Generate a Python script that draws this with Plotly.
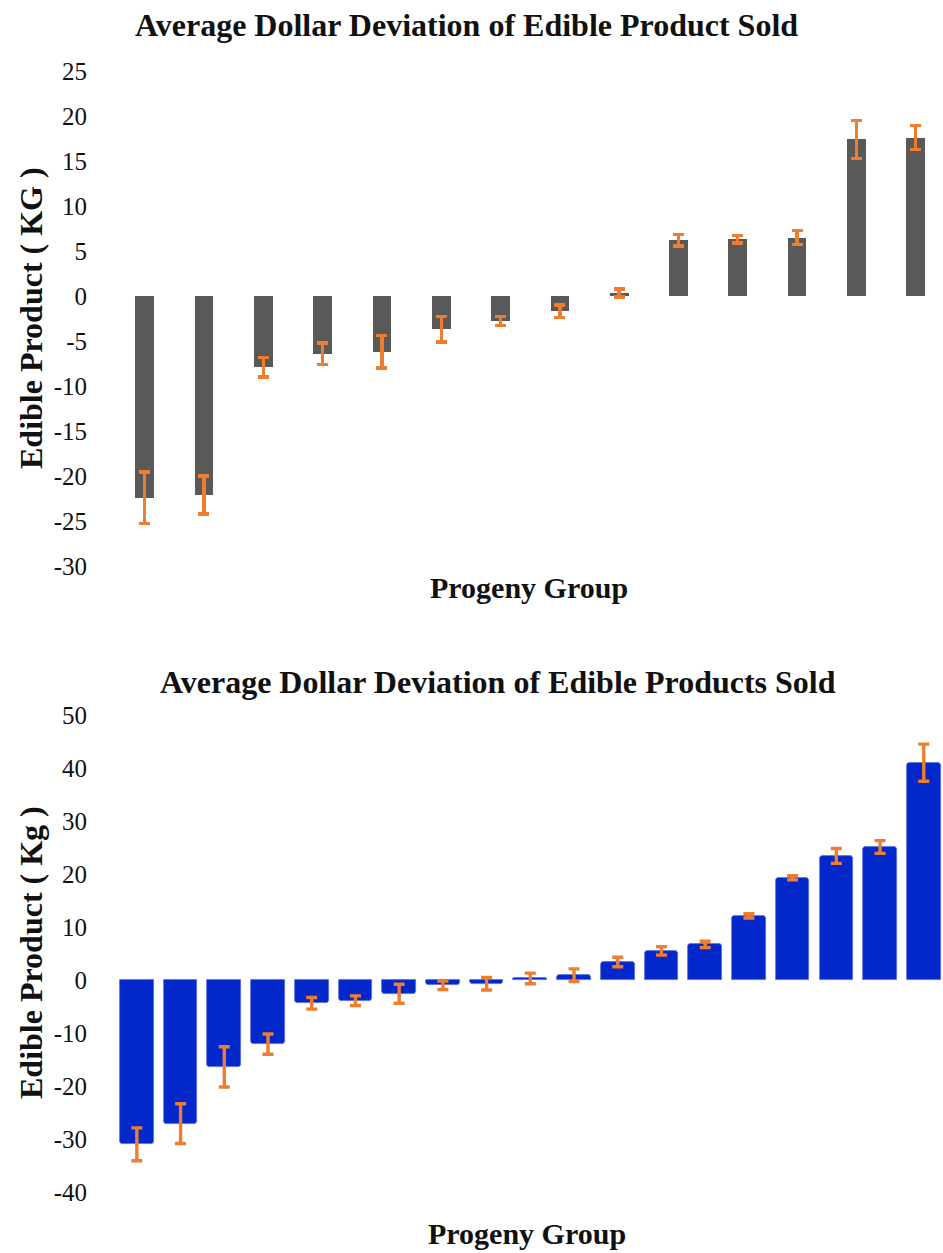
import plotly.graph_objects as go

# Progeny groups (unlabelled on the axis), sorted by deviation
top_groups = [f"G{i}" for i in range(1, 15)]
top_values = [-22.4, -22.1, -7.9, -6.4, -6.2, -3.7, -2.75, -1.7, 0.35, 6.2, 6.3, 6.5, 17.4, 17.6]
top_errors = [2.85, 2.1, 1.1, 1.2, 1.8, 1.4, 0.5, 0.7, 0.45, 0.65, 0.4, 0.75, 2.1, 1.35]

bottom_groups = [f"G{i}" for i in range(1, 20)]
bottom_values = [-31.0, -27.1, -16.4, -12.1, -4.4, -3.9, -2.6, -1.0, -0.7, 0.3, 0.9,
                 3.4, 5.5, 6.7, 12.1, 19.3, 23.4, 25.1, 41.0]
bottom_errors = [3.1, 3.75, 3.8, 1.9, 1.1, 0.9, 1.8, 0.8, 1.2, 1.0, 1.2,
                 0.9, 0.8, 0.6, 0.4, 0.4, 1.4, 1.2, 3.5]

top_ticks = list(range(-30, 30, 5))
top_tick_text = [str(v) for v in top_ticks]
bottom_ticks = list(range(-40, 60, 10))
bottom_tick_text = [str(v) for v in bottom_ticks]

W, H = 943, 1253
SERIF = "Liberation Serif, Times New Roman, serif"
ERR_COLOR = "#ED7D31"


def px_x(x):
    return x / W


def px_y(y):
    return 1 - y / H


fig = go.Figure()

fig.add_trace(go.Bar(
    x=top_groups, y=top_values, width=0.315,
    marker=dict(color="#595959", line=dict(width=0)),
    error_y=dict(type="data", array=top_errors, visible=True,
                 color=ERR_COLOR, thickness=3.4, width=5.5),
    xaxis="x", yaxis="y", showlegend=False,
))

fig.add_trace(go.Bar(
    x=bottom_groups, y=bottom_values, width=0.77,
    marker=dict(color="#0228CC", line=dict(width=0.8, color="#5870DC"), cornerradius=3),
    error_y=dict(type="data", array=bottom_errors, visible=True,
                 color=ERR_COLOR, thickness=3.4, width=5.5),
    xaxis="x2", yaxis="y2", showlegend=False,
))

x_dom = [px_x(115), 1.0]
tickfont = dict(family=SERIF, size=25, color="#111111")

fig.update_layout(
    width=W, height=H,
    margin=dict(l=0, r=0, t=0, b=0, autoexpand=False),
    paper_bgcolor="white", plot_bgcolor="white",
    bargap=0,
    xaxis=dict(domain=x_dom, range=[-0.5, 13.46], showticklabels=False,
               showgrid=False, zeroline=False, showline=False, ticks="",
               automargin=False),
    yaxis=dict(domain=[px_y(566), px_y(71)], range=[-30, 25],
               tickvals=top_ticks, ticktext=top_tick_text,
               showgrid=False, zeroline=False, showline=False,
               ticks="outside", ticklen=22, tickcolor="rgba(0,0,0,0)",
               tickfont=tickfont, automargin=False),
    xaxis2=dict(domain=x_dom, range=[-0.5, 18.44], showticklabels=False,
                showgrid=False, zeroline=False, showline=False, ticks="",
                anchor="y2", automargin=False),
    yaxis2=dict(domain=[px_y(1192), px_y(715)], range=[-40, 50],
                tickvals=bottom_ticks, ticktext=bottom_tick_text,
                showgrid=False, zeroline=False, showline=False,
                ticks="outside", ticklen=22, tickcolor="rgba(0,0,0,0)",
                tickfont=tickfont, anchor="x2", automargin=False),
)

title_font = dict(family=SERIF, size=32, color="#111111")
axis_font = dict(family=SERIF, size=30, color="#111111")
ytitle_font = dict(family=SERIF, size=32, color="#111111")

annotations = [
    dict(text="<b>Average Dollar Deviation of Edible Product Sold</b>",
         x=px_x(466), y=px_y(25), font=title_font),
    dict(text="<b>Progeny Group</b>", x=px_x(529), y=px_y(588), font=axis_font),
    dict(text="<b>Edible Product ( KG )</b>", x=px_x(31), y=px_y(318),
         font=ytitle_font, textangle=-90),
    dict(text="<b>Average Dollar Deviation of Edible Products Sold</b>",
         x=px_x(498), y=px_y(682), font=title_font),
    dict(text="<b>Progeny Group</b>", x=px_x(527), y=px_y(1233), font=axis_font),
    dict(text="<b>Edible Product ( Kg )</b>", x=px_x(31), y=px_y(953),
         font=ytitle_font, textangle=-90),
]
for a in annotations:
    a.update(xref="paper", yref="paper", showarrow=False,
             xanchor="center", yanchor="middle")
fig.update_layout(annotations=annotations)

fig.write_html("out.html")
